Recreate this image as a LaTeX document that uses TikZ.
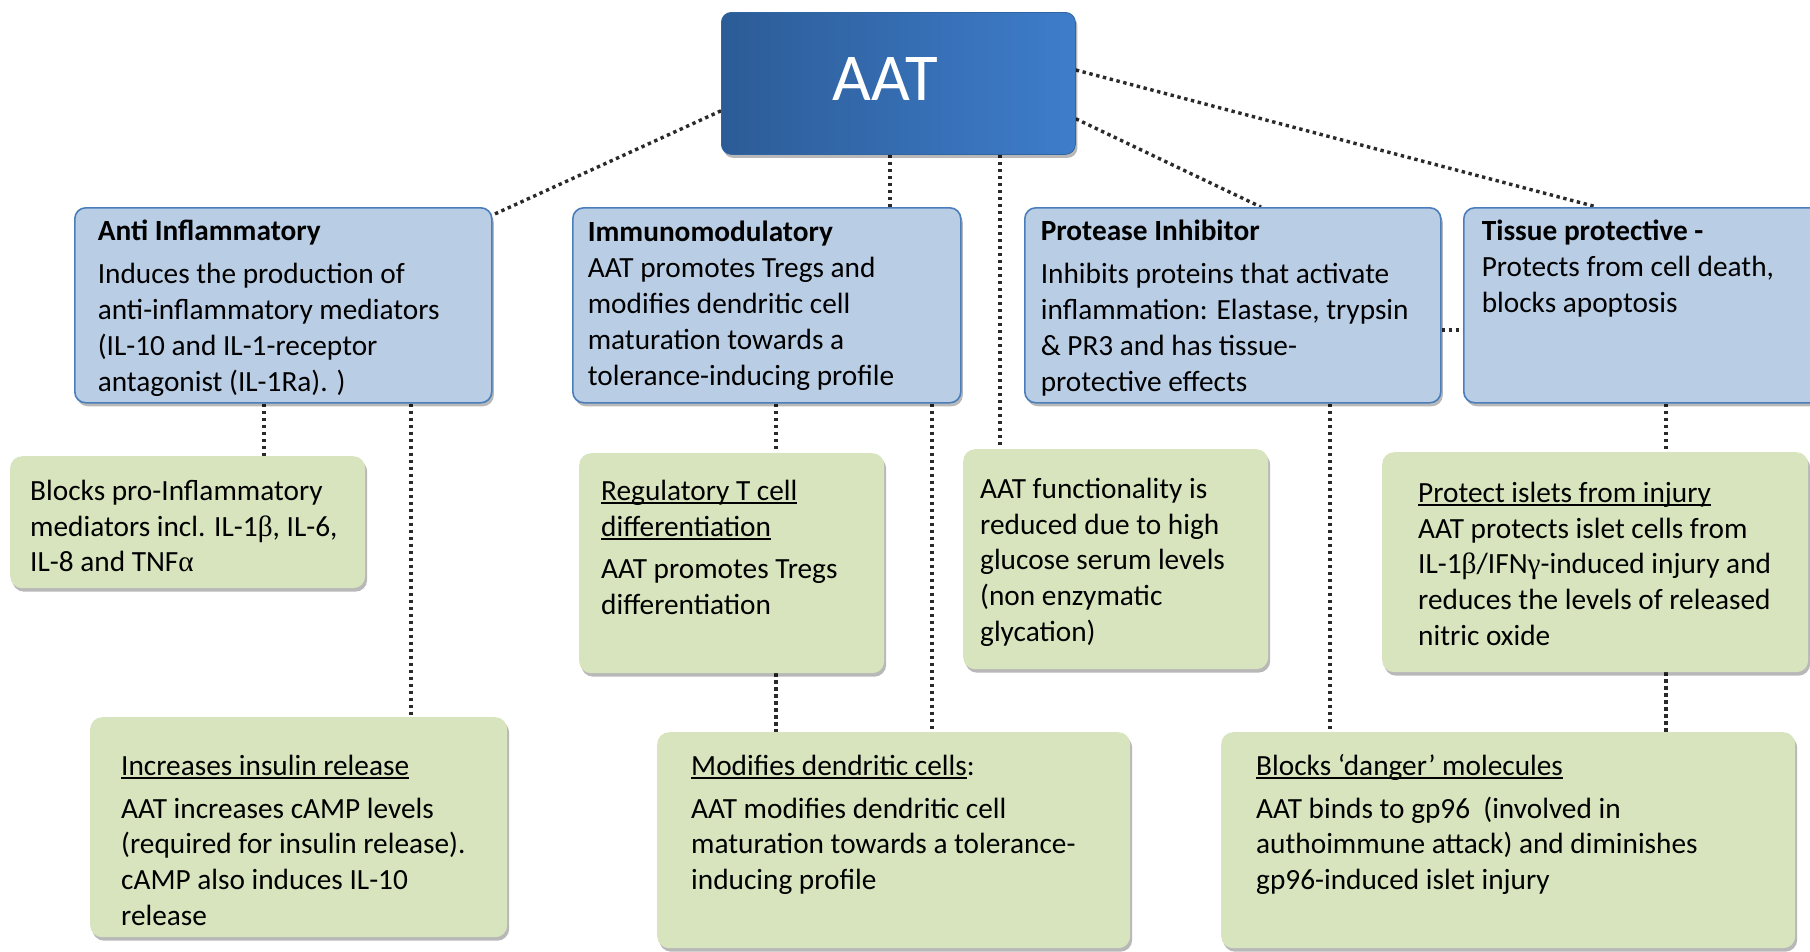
\documentclass[tikz,border=0pt]{standalone}
\usepackage{fontspec}
\setmainfont{Carlito}
\newfontfamily\grk{Liberation Serif}
\usetikzlibrary{shadows,backgrounds}
\definecolor{bfill}{HTML}{B9CDE5}
\definecolor{bbord}{HTML}{4A7EBB}
\definecolor{gfill}{HTML}{D7E4BD}
\definecolor{aatL}{HTML}{2C5C97}
\definecolor{aatR}{HTML}{3E7DCB}
\definecolor{conncol}{HTML}{2A2A2A}
\newsavebox\ulbox
\newcommand\uln[1]{\leavevmode\sbox\ulbox{#1}\rlap{\rule[-4pt]{\wd\ulbox}{1.8pt}}\usebox\ulbox}
\newcommand\gk[1]{{\grk #1}}
% #1 style, #2 name, #3 x1, #4 y1, #5 x2, #6 y2, #7 left pad, #8 first baseline offset, #9 text
\newcommand\mkbox[9]{\node[#1, inner xsep=#7pt, inner ysep=0pt, anchor=north west] (#2) at (#3,#4)
  {\parbox[t][\dimexpr #6pt-#4pt\relax][t]{\dimexpr #5pt-#3pt-#7pt-#7pt\relax}{\raggedright\rule{0pt}{#8pt}#9}};}
\begin{document}
\begin{tikzpicture}[x=1pt,y=-1pt,
  txt/.style={font=\fontsize{29.3}{35.8}\selectfont, text=black},
  shad/.style={drop shadow={shadow xshift=2pt, shadow yshift=-3.5pt, opacity=0.28, fill=black}},
  bluebox/.style={txt, draw=bbord, fill=bfill, line width=1.6pt, rounded corners=11pt, shad},
  greenbox/.style={txt, fill=gfill, rounded corners=12pt, shad},
  aatbox/.style={left color=aatL, right color=aatR, draw=aatR!80!black, line width=0.8pt, rounded corners=10pt, shad,
    text=white, font=\fontsize{67}{80}\selectfont, inner sep=0pt, minimum width=354pt, minimum height=142pt, anchor=north west},
  conn/.style={draw=conncol, line width=3.4pt, dash pattern=on 3.4pt off 3.6pt}]
\useasboundingbox (0,0) rectangle (1810,951);
\clip (0,0) rectangle (1810,951);

% top node
\node[aatbox] (aat) at (721,12) {\rule[-8pt]{0pt}{8pt}AAT\hspace*{26pt}};

% blue category boxes
\mkbox{bluebox}{ai}{74}{207}{491}{402}{23}{33}{\textbf{Anti Inflammatory}\\[7pt]
Induces the production of\\
anti-inflammatory mediators\\
(IL-10 and IL-1-receptor\\
antagonist (IL-1Ra). )}

\mkbox{bluebox}{im}{572}{207}{960}{402}{15}{34}{\textbf{Immunomodulatory}\\
AAT promotes Tregs and\\
modifies dendritic cell\\
maturation towards a\\
tolerance-inducing profile}

\mkbox{bluebox}{pi}{1024}{207}{1440}{402}{16}{33}{\textbf{Protease Inhibitor}\\[7pt]
Inhibits proteins that activate\\
inflammation: Elastase, trypsin\\
\& PR3 and has tissue-\\
protective effects}

\mkbox{bluebox}{tp}{1463}{207}{1835}{402}{18}{33}{\textbf{Tissue protective -}\\
Protects from cell death,\\
blocks apoptosis}

% green detail boxes
\mkbox{greenbox}{bp}{10}{456}{365}{588}{20}{44}{Blocks pro-Inflammatory\\
mediators incl. IL-1\gk{β}, IL-6,\\
IL-8 and TNF\gk{α}}

\mkbox{greenbox}{rt}{579}{453}{884}{673}{22}{47}{\uln{Regulatory T cell}\\
\uln{differentiation}\\[7pt]
AAT promotes Tregs\\
differentiation}

\mkbox{greenbox}{fn}{963}{449}{1268}{669}{17}{49}{AAT functionality is\\
reduced due to high\\
glucose serum levels\\
(non enzymatic\\
glycation)}

\mkbox{greenbox}{pisl}{1382}{452}{1808}{672}{36}{50}{\uln{Protect islets from injury}\\
AAT protects islet cells from\\
IL-1\gk{β}/IFN\gk{γ}-induced injury and\\
reduces the levels of released\\
nitric oxide}

\mkbox{greenbox}{ins}{90}{717}{507}{937}{31}{58}{\uln{Increases insulin release}\\[7pt]
AAT increases cAMP levels\\
(required for insulin release).\\
cAMP also induces IL-10\\
release}

\mkbox{greenbox}{md}{657}{732}{1130}{948}{34}{43}{\uln{Modifies dendritic cells}:\\[7pt]
AAT modifies dendritic cell\\
maturation towards a tolerance-\\
inducing profile}

\mkbox{greenbox}{bd}{1221}{732}{1795}{948}{35}{43}{\uln{Blocks ‘danger’ molecules}\\[7pt]
AAT binds to gp96\ \ (involved in\\
authoimmune attack) and diminishes\\
gp96-induced islet injury}

% connector anchor coordinates
\coordinate (a2) at ([xshift=169pt]aat.south west);
\coordinate (a3) at ([xshift=279pt]aat.south west);
\coordinate (ai1) at ([xshift=190pt]ai.south west);
\coordinate (ai2) at ([xshift=337pt]ai.south west);
\coordinate (im1) at ([xshift=204pt]im.south west);
\coordinate (im2) at ([xshift=360pt]im.south west);
\coordinate (rt1) at ([xshift=197pt]rt.south west);
\coordinate (pi1) at ([xshift=306pt]pi.south west);
\coordinate (tp1) at ([xshift=203pt]tp.south west);
\coordinate (ps1) at ([xshift=284pt]pisl.south west);
\coordinate (h1) at ([yshift=-24.5pt]pi.east);

\begin{pgfonlayer}{background}
\fill[white] (0,0) rectangle (1810,951);
\draw[conn] ([yshift=44pt]aat.south west) -- ([yshift=-8pt]ai.north east);
\draw[conn] (a2) -- (a2 |- im.north);
\draw[conn] (a3) -- (a3 |- fn.north);
\draw[conn] ([yshift=36pt]aat.south east) -- ([xshift=237pt]pi.north west);
\draw[conn] ([yshift=-58pt]aat.north east) -- ([xshift=134pt]tp.north west);
\draw[conn] (h1) -- (h1 -| tp.west);
\draw[conn] (ai1) -- (ai1 |- bp.north);
\draw[conn] (ai2) -- (ai2 |- ins.north);
\draw[conn] (im1) -- (im1 |- rt.north);
\draw[conn] (im2) -- (im2 |- md.north);
\draw[conn] (rt1) -- (rt1 |- md.north);
\draw[conn] (pi1) -- (pi1 |- bd.north);
\draw[conn] (tp1) -- (tp1 |- pisl.north);
\draw[conn] (ps1) -- (ps1 |- bd.north);
\end{pgfonlayer}
\end{tikzpicture}
\end{document}
